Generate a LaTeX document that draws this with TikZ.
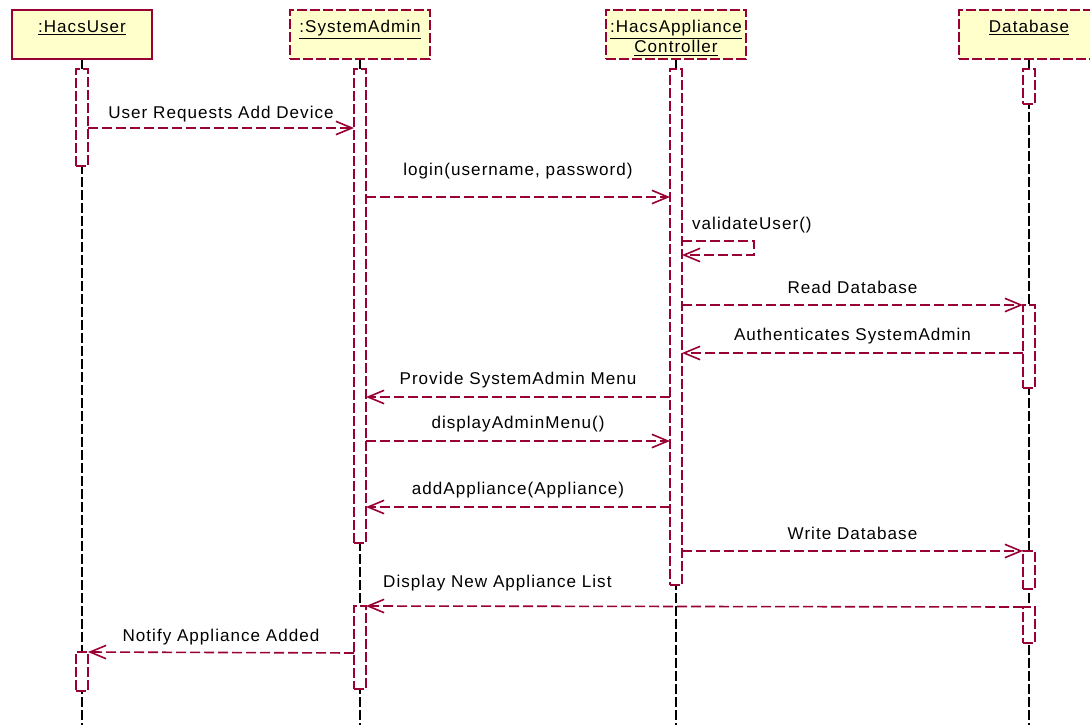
\documentclass[tikz,border=0pt]{standalone}
\usepackage{fontspec}
\setmainfont[LetterSpace=6]{Liberation Sans}
\usetikzlibrary{arrows.meta}
\definecolor{umlred}{RGB}{153,0,51}
\definecolor{umlfill}{RGB}{255,255,204}
\tikzset{every picture/.style={line width=0.75pt}}
\tikzset{
  hdr/.style={draw=umlred, fill=umlfill, line width=1.5pt, dash pattern=on 7.5pt off 2.25pt,
    minimum width=105pt, inner xsep=0pt, inner ysep=8pt, text height=9pt, text depth=11.75pt},
  hdrsolid/.style={hdr, solid},
  life/.style={draw=black, line width=1.5pt, dash pattern=on 7.5pt off 2.25pt},
  act/.style={draw=umlred, fill=white, line width=1.5pt, dash pattern=on 7.5pt off 2.25pt,
    minimum width=9pt, inner sep=0pt, outer sep=0pt},
  msg/.style={draw=umlred, line width=1.2pt, dash pattern=on 7.5pt off 3pt,
    -{Straight Barb[length=12pt,width=10pt]}},
  lbl/.style={inner sep=0pt, text height=9pt, text depth=2.5pt, above=#1},
  lbl/.default=6pt
}

\begin{document}
\begin{tikzpicture}[x=0.75pt,y=0.75pt,yscale=-1,xscale=1,font=\fontsize{12.8}{15}\selectfont]
\useasboundingbox (0,0) rectangle (1090,725);
\coordinate (bottom) at (0,725);

% Objects
\node[hdrsolid] (user) at (82,34.5) {\underline{:HacsUser}};
\node[hdr] (admin) at (360,34.5) {\underline{:SystemAdmin}};
\node[hdr] (ctrl) at (676,34.5) {\begin{tabular}[t]{@{}c@{}}\underline{:HacsAppliance}\\\underline{Controller}\end{tabular}};
\node[hdr] (db) at (1029,34.5) {\underline{Database}};

% Lifelines
\draw[life] (user.south) -- (user.south |- bottom);
\draw[life] (admin.south) -- (admin.south |- bottom);
\draw[life] (ctrl.south) -- (ctrl.south |- bottom);
\draw[life] (db.south) -- (db.south |- bottom);

% Activations
\node[act, minimum height=72.75pt] (ua1) at (user |- 0,117.5) {};
\node[act, minimum height=29.25pt] (ua2) at (user |- 0,671.5) {};
\node[act, minimum height=355.5pt] (sa1) at (admin |- 0,306) {};
\node[act, minimum height=62.25pt] (sa2) at (admin |- 0,647.5) {};
\node[act, minimum height=387pt] (ca1) at (ctrl |- 0,327) {};
\node[act, minimum height=26.25pt] (da1) at (db |- 0,86.5) {};
\node[act, minimum height=62.25pt] (da2) at (db |- 0,346.5) {};
\node[act, minimum height=28.5pt] (da3) at (db |- 0,570) {};
\node[act, minimum height=27pt] (da4) at (db |- 0,625) {};

% Messages
\draw[msg] (ua1.east |- 0,128) -- node[lbl=4.4pt] {User Requests Add Device} (sa1.west |- 0,128);
\draw[msg] (sa1.east |- 0,197) -- node[lbl=13.4pt] {login(username, password)} (ca1.west |- 0,197);
\coordinate (selfin) at (ca1.east |- 0,255);
\draw[msg] (ca1.east |- 0,241) -- node[inner sep=0pt, text height=9pt, text depth=2.5pt, anchor=south west, xshift=7pt, yshift=5.2pt, pos=0] {validateUser()} ++(72,0) -- ++(0,14) -- (selfin);
\draw[msg] (ca1.east |- 0,305) -- node[lbl=5.2pt] {Read Database} (da2.north west);
\draw[msg] (da2.west |- 0,353) -- node[lbl=6.6pt] {Authenticates SystemAdmin} (ca1.east |- 0,353);
\draw[msg] (ca1.west |- 0,397) -- node[lbl=6.6pt] {Provide SystemAdmin Menu} (sa1.east |- 0,397);
\draw[msg] (sa1.east |- 0,441) -- node[lbl=6.6pt] {displayAdminMenu()} (ca1.west |- 0,441);
\draw[msg] (ca1.west |- 0,507) -- node[lbl=6.6pt] {addAppliance(Appliance)} (sa1.east |- 0,507);
\draw[msg] (ca1.east |- 0,551) -- node[lbl=5.9pt] {Write Database} (da3.north west);
\draw[msg] (da4.north west) -- node[lbl=11.2pt, pos=0.8] {Display New Appliance List} (sa2.north east);
\draw[msg] (sa2.west |- 0,653) -- node[lbl=5.2pt] {Notify Appliance Added} (ua2.north east);
\end{tikzpicture}
\end{document}
